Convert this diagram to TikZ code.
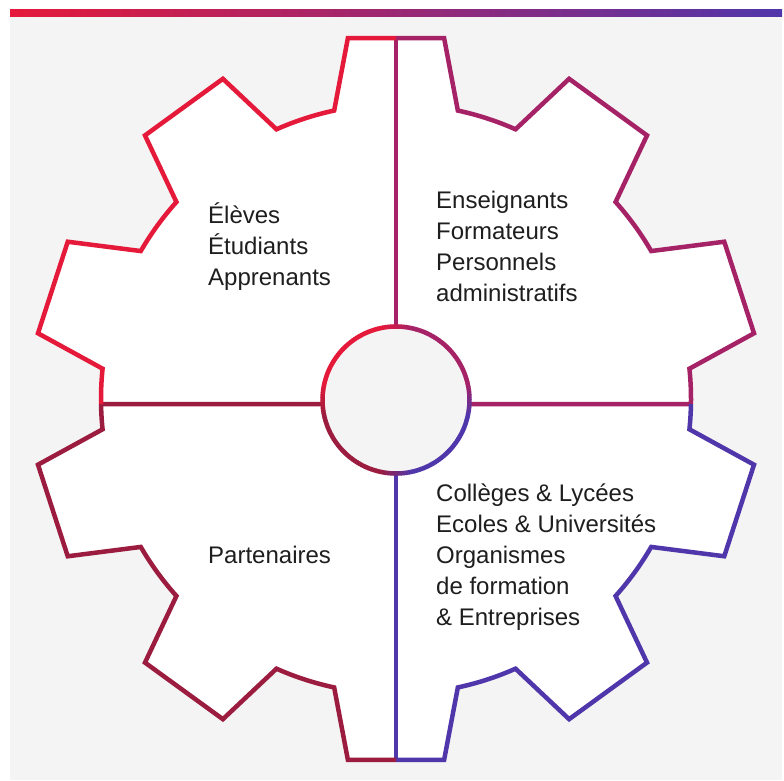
\documentclass[tikz,border=0pt]{standalone}
\usepackage{fontspec}
\setmainfont{Liberation Sans}
\definecolor{cRed}{HTML}{E5193A}
\definecolor{cMag}{HTML}{A62266}
\definecolor{cPur}{HTML}{5036AB}
\definecolor{cDark}{HTML}{9B1C3E}
\definecolor{bgc}{HTML}{F4F4F4}
\definecolor{txtc}{HTML}{1E1E1E}
\colorlet{qc0}{cMag}
\colorlet{qc1}{cRed}
\colorlet{qc2}{cDark}
\colorlet{qc3}{cPur}
\def\qUR{-- (82.4:364pt) -- (77.9:295pt) arc[start angle=77.9,end angle=66.1,radius=295pt] -- (61.6:364pt) -- (46.4:364pt) -- (41.9:295pt) arc[start angle=41.9,end angle=30.1,radius=295pt] -- (25.6:364pt) -- (10.4:364pt) -- (5.9:295pt) arc[start angle=5.9,end angle=-1,radius=295pt]}
\def\qLR{arc[start angle=-1,end angle=-5.9,radius=295pt] -- (-10.4:364pt) -- (-25.6:364pt) -- (-30.1:295pt) arc[start angle=-30.1,end angle=-41.9,radius=295pt] -- (-46.4:364pt) -- (-61.6:364pt) -- (-66.1:295pt) arc[start angle=-66.1,end angle=-77.9,radius=295pt] -- (-82.4:364pt) -- (-90:360.8pt)}
\def\qLL{-- (-97.6:364pt) -- (-102.1:295pt) arc[start angle=-102.1,end angle=-113.9,radius=295pt] -- (-118.4:364pt) -- (-133.6:364pt) -- (-138.1:295pt) arc[start angle=-138.1,end angle=-149.9,radius=295pt] -- (-154.4:364pt) -- (-169.6:364pt) -- (-174.1:295pt) arc[start angle=-174.1,end angle=-179,radius=295pt]}
\def\qUL{arc[start angle=181,end angle=174.1,radius=295pt] -- (169.6:364pt) -- (154.4:364pt) -- (149.9:295pt) arc[start angle=149.9,end angle=138.1,radius=295pt] -- (133.6:364pt) -- (118.4:364pt) -- (113.9:295pt) arc[start angle=113.9,end angle=102.1,radius=295pt] -- (97.6:364pt) -- (90:360.8pt)}
\begin{document}
\begin{tikzpicture}[x=1pt,y=1pt,
  gearline/.style={line width=4.5pt, line join=miter},
  txtblock/.style={anchor=base west, align=left, inner sep=0pt, text=txtc, font=\fontsize{24}{31}\selectfont}]
\useasboundingbox (0,0) rectangle (784,780);
\fill[bgc] (10,0) rectangle (782,764);
\shade[left color=cRed, right color=cPur] (10,763.5) rectangle (782,770);
\begin{scope}[shift={(396,381)}]
  % white gear body
  \fill[white] (0,0) -- (90:360.8pt) \qUR -- cycle;
  \fill[white] (0,0) -- (-1:295pt) \qLR -- cycle;
  \fill[white] (0,0) -- (-90:360.8pt) \qLL -- cycle;
  \fill[white] (0,0) -- (181:295pt) \qUL -- cycle;
  % dividers
  \draw[cMag,gearline] (90:360.8pt) -- (0,-1);
  \draw[cMag,gearline] (-1:295pt) -- (0,-5.15);
  \draw[cPur,gearline] (-90:360.8pt) -- (0,-1);
  \draw[cDark,gearline] (181:295pt) -- (0,-5.15);
  % outline quadrants
  \draw[cMag,gearline] (90:360.8pt) \qUR;
  \draw[cPur,gearline] (-1:295pt) \qLR;
  \draw[cDark,gearline] (-90:360.8pt) \qLL;
  \draw[cRed,gearline] (181:295pt) \qUL;
  % hub
  \begin{scope}[shift={(0,-1)}]
    \fill[bgc] (0,0) circle[radius=73.5pt];
    \foreach \i in {0,...,179}{
      \pgfmathtruncatemacro\q{floor(\i/45)}
      \pgfmathsetmacro\t{2*\i+1-90*\q}
      \pgfmathtruncatemacro\qp{mod(\q+3,4)}
      \pgfmathtruncatemacro\qn{mod(\q+1,4)}
      \pgfmathsetmacro\a{2*\i}
      \pgfmathsetmacro\b{2*\i+2.4}
      \ifdim\t pt<12pt
        \pgfmathtruncatemacro\p{50+50*\t/12}\colorlet{segc}{qc\q!\p!qc\qp}
      \else\ifdim\t pt>78pt
        \pgfmathtruncatemacro\p{50+50*(90-\t)/12}\colorlet{segc}{qc\q!\p!qc\qn}
      \else
        \colorlet{segc}{qc\q}
      \fi\fi
      \draw[segc, line width=4.5pt] (\a:73.5pt) arc[start angle=\a, end angle=\b, radius=73.5pt];
    }
  \end{scope}
\end{scope}
\node[txtblock] (eleves) at (208,494) {Élèves\\Étudiants\\Apprenants};
\node[txtblock] (ens) at (436,478) {Enseignants\\Formateurs\\Personnels\\administratifs};
\node[txtblock] (col) at (436,155) {Collèges \& Lycées\\Ecoles \& Universités\\Organismes\\de formation\\\& Entreprises};
\node[txtblock] (part) at (208,217) {Partenaires};
\end{tikzpicture}
\end{document}
